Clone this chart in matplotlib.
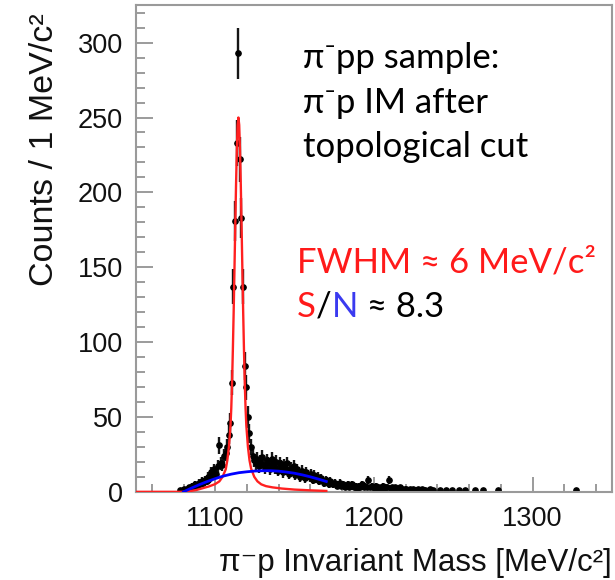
import numpy as np
import matplotlib
matplotlib.use("Agg")
import matplotlib.pyplot as plt
from matplotlib.ticker import MultipleLocator

# pi- p invariant mass histogram, 1 MeV/c2 bins (lower edges 1077..1237)
first_edge = 1077
counts = [
    1, 0, 1, 2, 1, 2, 3, 2, 4, 3,            # 1077-1086
    5, 4, 6, 5, 7, 6, 8, 7, 10, 9,           # 1087-1096
    13, 11, 15, 12, 17, 31, 19, 18, 24, 26,  # 1097-1106
    30, 38, 46, 73, 137, 181, 233, 293, 222, 183,  # 1107-1116
    137, 84, 70, 50, 39, 30, 24, 21, 19, 22,  # 1117-1126
    17, 20, 23, 18, 16, 21, 19, 15, 22, 18,   # 1127-1136
    16, 20, 14, 19, 17, 13, 18, 15, 19, 12,   # 1137-1146
    16, 14, 17, 11, 15, 13, 10, 14, 12, 9,    # 1147-1156
    13, 11, 10, 12, 8, 11, 9, 10, 7, 9,       # 1157-1166
    8, 6, 8, 7, 5, 7, 6, 5, 6, 4,             # 1167-1176
    5, 6, 4, 5, 3, 4, 5, 3, 4, 5,             # 1177-1186
    3, 4, 2, 4, 3, 5, 3, 4, 3, 8,             # 1187-1196
    3, 4, 3, 2, 4, 3, 2, 3, 4, 2,             # 1197-1206
    3, 3, 8, 2, 3, 2, 3, 1, 2, 3,             # 1207-1216
    2, 1, 2, 2, 1, 2, 1, 2, 1, 1,             # 1217-1226
    2, 1, 0, 2, 1, 1, 0, 1, 2, 0,             # 1227-1236
    1,                                        # 1237
]
# isolated entries in the far tail
tail_mass = [1241.5, 1245.5, 1249.5, 1253.5, 1257.5, 1263.5, 1268.5, 1278.5, 1327.5]
tail_counts = [1, 1, 1, 1, 1, 1, 1, 1, 1]

# total fit (red) and background (blue)
fit_mass = [1050, 1080, 1084, 1088, 1092, 1096, 1100, 1102.6, 1104.6, 1106.6,
            1107.6, 1108.6, 1109.6, 1110.1, 1110.6, 1111.1, 1111.6, 1112.1, 1112.6, 1113.1,
            1113.6, 1114.1, 1114.6, 1115.1, 1115.6, 1116.1, 1116.6, 1117.1, 1117.6, 1118.1,
            1118.6, 1119.1, 1119.6, 1120.6, 1121.6, 1122.6, 1124.6, 1126.6, 1129, 1132,
            1136, 1142, 1150, 1160, 1170]
fit_counts = [0, 0, 0.5, 1.2, 2.4, 3.6, 5.2, 7, 10, 15,
              21, 30, 44, 56, 73, 95, 120, 148, 177, 205,
              228, 245, 250, 245, 228, 205, 177, 148, 120, 95,
              73, 56, 44, 30, 21, 15.5, 10, 7, 5, 3.8,
              3, 2.2, 1.5, 1.0, 0.6]
bkg_mass = [1080, 1085, 1090, 1095, 1100, 1105, 1110, 1115, 1120, 1125,
            1130, 1135, 1140, 1145, 1150, 1155, 1160, 1165, 1170]
bkg_counts = [0, 2.5, 4.8, 6.9, 8.8, 10.5, 11.8, 12.8, 13.4, 13.9,
              14.1, 14.1, 13.8, 13.2, 12.4, 11.3, 10.0, 8.5, 6.9]

x_ticks = [1100, 1200, 1300]
y_ticks = [0, 50, 100, 150, 200, 250, 300]

# histogram arrays
mass = first_edge + 0.5 + np.arange(len(counts))
counts = np.array(counts, dtype=float)
keep = counts > 0
mass = np.concatenate([mass[keep], tail_mass])
cnt = np.concatenate([counts[keep], tail_counts])
err = np.sqrt(cnt)

axis_font = ["Liberation Sans", "DejaVu Sans"]
note_font = ["Lato", "DejaVu Sans"]

fig = plt.figure(figsize=(6.15, 5.8), dpi=100)
ax = fig.add_axes([0.221, 0.152, 0.774, 0.839])

ax.plot(fit_mass, fit_counts, color="#ff2020", lw=1.7, zorder=3)
ax.plot(bkg_mass, bkg_counts, color="#0000ff", lw=2.0, zorder=3)
ax.errorbar(mass, cnt, yerr=err, fmt="o", color="black", ms=3.8,
            elinewidth=1.7, ecolor="#151515", capsize=0, zorder=2)

ax.set_xlim(1050, 1350)
ax.set_ylim(0, 325)
ax.set_xticks(x_ticks)
ax.set_yticks(y_ticks)
ax.xaxis.set_minor_locator(MultipleLocator(20))
ax.yaxis.set_minor_locator(MultipleLocator(10))
ax.tick_params(which="both", direction="in", color="#8a8a8a", width=1.2,
               top=False, right=False, labelsize=19.5, labelcolor="#111111")
ax.tick_params(axis="x", which="major", length=11, pad=10)
ax.tick_params(axis="x", which="minor", length=6)
ax.tick_params(axis="y", which="major", length=12, pad=9.5)
ax.tick_params(axis="y", which="minor", length=6.5)
for lab in ax.get_xticklabels() + ax.get_yticklabels():
    lab.set_family(axis_font)
for s in ax.spines.values():
    s.set_color("#9a9a9a")
    s.set_linewidth(1.5)

fig.text(0.995, 1 - 571 / 580, "π⁻p Invariant Mass [MeV/c²]", ha="right",
         va="baseline", fontsize=22.5, family=axis_font, color="#111111")
fig.text(53 / 615, 1 - 13 / 580, "Counts / 1 MeV/c²", rotation=90,
         rotation_mode="anchor", ha="right", va="baseline", fontsize=24.5,
         family=axis_font, color="#111111")

# annotation block
for txt, base in [("π⁻pp sample:", 68), ("π⁻p IM after", 113), ("topological cut", 157)]:
    fig.text(303 / 615, 1 - base / 580, txt, ha="left", va="baseline",
             fontsize=25, family=note_font)
fig.text(297 / 615, 1 - 273 / 580, "FWHM ≈ 6 MeV/c²", color="#ff1a1a",
         ha="left", va="baseline", fontsize=25, family=note_font)

# S/N line with coloured pieces
fig.canvas.draw()
renderer = fig.canvas.get_renderer()
x_px = 297
for piece, col in [("S", "#ff1a1a"), ("/", "black"), ("N", "#3a3af0"), (" ≈ 8.3", "black")]:
    t = fig.text(x_px / 615, 1 - 317 / 580, piece, color=col, ha="left",
                 va="baseline", fontsize=25, family=note_font)
    x_px = t.get_window_extent(renderer).x1

fig.savefig("out.png", dpi=100)
